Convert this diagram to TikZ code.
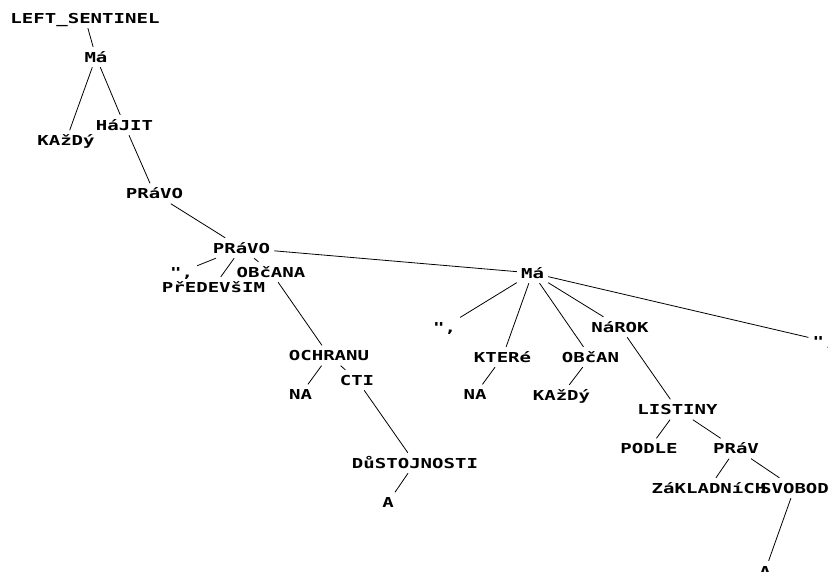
\documentclass[tikz,border=0pt]{standalone}
\usepackage{fontspec}
\newfontfamily\pixfont{DejaVu Sans Mono}[FakeStretch=1.39]
\tikzset{
  lbl/.style={font=\pixfont\bfseries\fontsize{13.7}{14}\selectfont, inner xsep=4pt, inner ysep=5pt, text height=10pt, text depth=0pt, anchor=center},
  conn/.style={draw=black, line width=0.8pt}
}
\begin{document}
\begin{tikzpicture}[x=1pt,y=-1pt]
\useasboundingbox (0,0) rectangle (828,571);
\node[lbl] (ls) at (85,18) {LEFT\_SENTINEL};
\node[lbl] (ma1) at (96,57) {Má};
\node[lbl] (kazdy1) at (66,140.5) {KAžDý};
\node[lbl] (hajit) at (124.5,125) {HáJIT};
\node[lbl] (pravo1) at (154.5,193.5) {PRáVO};
\node[lbl] (pravo2) at (241.5,248) {PRáVO};
\node[lbl] (q1) at (181.5,272) {",};
\node[lbl] (predevsim) at (213.5,287) {PřEDEVšIM};
\node[lbl] (obcana) at (271,272) {OBčANA};
\node[lbl] (ochranu) at (329,355.5) {OCHRANU};
\node[lbl] (na1) at (300.5,394.5) {NA};
\node[lbl] (cti) at (357,380) {CTI};
\node[lbl] (dust) at (415,463) {DůSTOJNOSTI};
\node[lbl] (a1) at (388,502.5) {A};
\node[lbl] (ma2) at (532.5,273) {Má};
\node[lbl] (q2) at (444.5,327) {",};
\node[lbl] (ktere) at (502.5,357) {KTERé};
\node[lbl] (na2) at (475,394.5) {NA};
\node[lbl] (obcan) at (590.5,357) {OBčAN};
\node[lbl] (kazdy2) at (561.5,395) {KAžDý};
\node[lbl] (narok) at (620,327) {NáROK};
\node[lbl] (q3) at (824,341) {",};
\node[lbl] (listiny) at (677.5,409.5) {LISTINY};
\node[lbl] (podle) at (649,448.5) {PODLE};
\node[lbl] (prav) at (736,448.5) {PRáV};
\node[lbl] (zakl) at (709,488) {ZáKLADNíCH};
\node[lbl] (svobod) at (794.5,488) {SVOBOD};
\node[lbl] (a2) at (765,571) {A};
\foreach \u/\v in {ls/ma1, ma1/kazdy1, ma1/hajit, hajit/pravo1, pravo1/pravo2,
  pravo2/q1, pravo2/predevsim, pravo2/obcana, pravo2/ma2, obcana/ochranu,
  ochranu/na1, ochranu/cti, cti/dust, dust/a1, ma2/q2, ma2/ktere, ma2/obcan,
  ma2/narok, ma2/q3, ktere/na2, obcan/kazdy2, narok/listiny, listiny/podle,
  listiny/prav, prav/zakl, prav/svobod, svobod/a2}
  \draw[conn] (\u) -- (\v);
\end{tikzpicture}
\end{document}
